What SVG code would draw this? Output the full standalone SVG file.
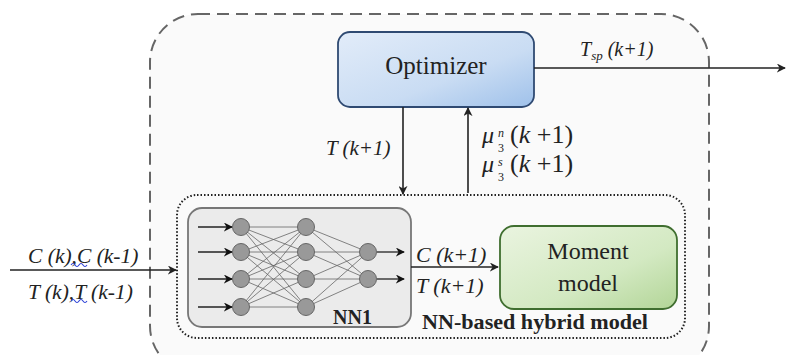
<svg xmlns="http://www.w3.org/2000/svg" width="786" height="355" viewBox="0 0 786 355">
<defs>
<linearGradient id="gBlue" x1="0" y1="0" x2="1" y2="1">
<stop offset="0" stop-color="#e2ecf9"/><stop offset="0.6" stop-color="#c9dcf3"/><stop offset="1" stop-color="#9fc1ea"/>
</linearGradient>
<linearGradient id="gGreen" x1="0" y1="0" x2="1" y2="1">
<stop offset="0" stop-color="#eaf4e0"/><stop offset="0.6" stop-color="#d3e9c2"/><stop offset="1" stop-color="#b2d597"/>
</linearGradient>
<marker id="ah" viewBox="0 0 10 10" refX="9" refY="5" markerWidth="9" markerHeight="9" markerUnits="userSpaceOnUse" orient="auto">
<path d="M0,0 L10,5 L0,10 L3,5 Z" fill="#222"/>
</marker>
<marker id="ahs" viewBox="0 0 10 10" refX="9" refY="5" markerWidth="9" markerHeight="9" markerUnits="userSpaceOnUse" orient="auto">
<path d="M0,0 L10,5 L0,10 L3,5 Z" fill="#111"/>
</marker>
</defs>
<style>
.conn{stroke:#222;stroke-width:1.6;fill:none;marker-end:url(#ah)}
.nl{stroke:#666;stroke-width:0.8}
.neu{fill:#999;stroke:#666;stroke-width:1}
</style>
<rect width="786" height="355" fill="#fff"/>
<g id="outer">
<rect x="150" y="14" width="559" height="360" rx="48" ry="48" fill="#fafafa" stroke="#666" stroke-width="2" stroke-dasharray="12,7"/>
</g>
<g font-family="Liberation Serif, Times New Roman, serif" fill="#222">
<g id="hybrid">
<rect x="177" y="195" width="508" height="143" rx="20" ry="20" fill="none" stroke="#222" stroke-width="2" stroke-dasharray="1.5,2"/>
<text x="422" y="329" font-weight="bold" font-size="21" textLength="226" lengthAdjust="spacingAndGlyphs">NN-based hybrid model</text>
</g>
<g id="optimizer">
<rect x="338" y="32" width="196" height="75" rx="12" ry="12" fill="url(#gBlue)" stroke="#2f4a72" stroke-width="1.8"/>
<text x="436" y="74" font-size="25" text-anchor="middle">Optimizer</text>
</g>
<g id="nn1">
<rect x="188" y="208" width="223" height="119" rx="14" ry="14" fill="#ebebeb" stroke="#777" stroke-width="1.8"/>
<g class="nl">
<path d="M241,227 L306,227 M241,227 L306,252 M241,227 L306,279 M241,227 L306,307 M241,252 L306,227 M241,252 L306,252 M241,252 L306,279 M241,252 L306,307 M241,279 L306,227 M241,279 L306,252 M241,279 L306,279 M241,279 L306,307 M241,307 L306,227 M241,307 L306,252 M241,307 L306,279 M241,307 L306,307 M306,227 L368,252 M306,227 L368,279 M306,252 L368,252 M306,252 L368,279 M306,279 L368,252 M306,279 L368,279 M306,307 L368,252 M306,307 L368,279"/>
</g>
<g stroke="#222" stroke-width="1.3" fill="none" marker-end="url(#ahs)">
<path d="M198,227 L232,227"/><path d="M198,252 L232,252"/><path d="M198,279 L232,279"/><path d="M198,307 L232,307"/>
<path d="M377,252 L404,252"/><path d="M377,279 L404,279"/>
</g>
<circle class="neu" cx="241" cy="227" r="8.5"/><circle class="neu" cx="241" cy="252" r="8.5"/><circle class="neu" cx="241" cy="279" r="8.5"/><circle class="neu" cx="241" cy="307" r="8.5"/>
<circle class="neu" cx="306" cy="227" r="8.5"/><circle class="neu" cx="306" cy="252" r="8.5"/><circle class="neu" cx="306" cy="279" r="8.5"/><circle class="neu" cx="306" cy="307" r="8.5"/>
<circle class="neu" cx="368" cy="252" r="8.5"/><circle class="neu" cx="368" cy="279" r="8.5"/>
<text x="333" y="324" font-weight="bold" font-size="20">NN1</text>
</g>
<g id="moment">
<rect x="500" y="226" width="177" height="83" rx="14" ry="14" fill="url(#gGreen)" stroke="#3f6e2f" stroke-width="1.8"/>
<text x="588" y="259" font-size="24" text-anchor="middle">Moment</text>
<text x="588" y="291" font-size="24" text-anchor="middle">model</text>
</g>
<g id="connectors">
<path class="conn" d="M534,68 L785,68"/>
<path class="conn" d="M403,107 L403,194"/>
<path class="conn" d="M468,193 L468,108"/>
<path class="conn" d="M10,270 L176,270"/>
<path class="conn" d="M411,267 L498,267"/>
</g>
<g id="labels" font-style="italic" font-size="21">
<text x="580" y="56" font-size="20">T<tspan font-size="13" dy="4">sp</tspan><tspan dy="-4"> (k+1)</tspan></text>
<text x="326" y="155">T (k+1)</text>
<text x="28" y="263" font-size="21.5">C (k),C (k-1)</text>
<text x="28" y="299" font-size="21.5">T (k),T (k-1)</text>
<text x="416" y="262" font-size="22">C (k+1)</text>
<text x="416" y="293" font-size="22">T (k+1)</text>
</g>
<g id="mu" font-size="26">
<text x="482" y="143" font-size="24" font-style="italic">μ</text>
<text x="498" y="137" font-size="12" font-style="italic">n</text>
<text x="498" y="152" font-size="12">3</text>
<text x="510" y="143">(<tspan font-style="italic">k</tspan> +1)</text>
<text x="482" y="172" font-size="24" font-style="italic">μ</text>
<text x="498" y="166" font-size="12" font-style="italic">s</text>
<text x="498" y="181" font-size="12">3</text>
<text x="510" y="172">(<tspan font-style="italic">k</tspan> +1)</text>
</g>
</g>
<path d="M71,265 q2,-3 4,0 t4,0 t4,0 t4,0" fill="none" stroke="#2a3fd6" stroke-width="1.1"/>
<path d="M71,301 q2,-3 4,0 t4,0 t4,0 t4,0" fill="none" stroke="#2a3fd6" stroke-width="1.1"/>
</svg>
